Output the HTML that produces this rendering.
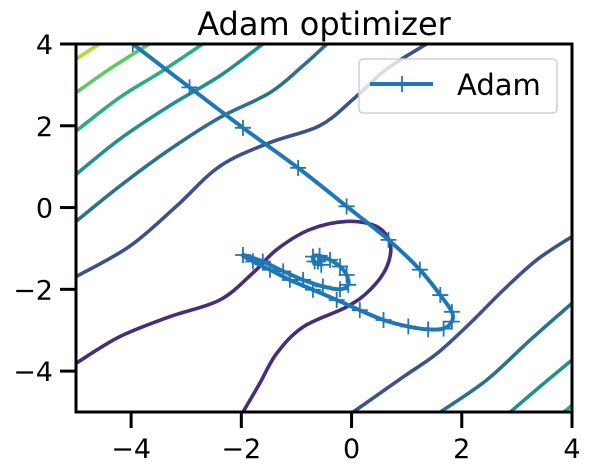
<!DOCTYPE html>
<html><head><meta charset="utf-8"><style>
html,body{margin:0;padding:0;background:#fff;}
svg{display:block;font-family:"DejaVu Sans","Liberation Sans",sans-serif;}
</style></head><body>
<svg id="chart" width="592" height="474" viewBox="0 0 592 474"></svg>
<script>
const xTicks=[-4,-2,0,2,4];
const yTicks=[-4,-2,0,2,4];
const xTickLabels=["\u22124","\u22122","0","2","4"];
const yTickLabels=["\u22124","\u22122","0","2","4"];
const contourColors=["#addc30","#5ec962","#28ae80","#21918c","#2c728e","#3b528b","#472d7b","#3b528b","#2c728e","#21918c","#28ae80"];
const contourLines=[
[[-5,3.63],[-4.58,4]],
[[-5,2.81],[-4.39,3.39],[-3.67,4]],
[[-5,1.87],[-4.21,2.69],[-3.48,3.30],[-2.70,4]],
[[-5,0.81],[-4.21,1.67],[-3.30,2.49],[-2.39,3.22],[-1.61,4]],
[[-5,-0.34],[-4.21,0.52],[-3.30,1.42],[-2.39,2.20],[-1.48,2.81],[-0.88,3.47],[-0.45,4]],
[[-5,-1.69],[-4.03,-0.95],[-3.18,0.03],[-2.39,1.01],[-1.48,1.59],[-0.58,2.0],[0.03,2.65],[0.64,3.39],[1.36,4]],
[[-5,-3.81],[-4.21,-3.16],[-3.30,-2.67],[-2.39,-2.26],[-1.79,-1.60],[-1.36,-1.03],[-0.76,-0.54],[-0.09,-0.34],[0.45,-0.46],[0.70,-0.87],[0.64,-1.45],[0.33,-2.02],[-0.09,-2.43],[-0.88,-2.92],[-1.36,-3.57],[-1.67,-4.31],[-1.97,-5]],
[[0.03,-5],[0.94,-4.14],[1.55,-3.57],[2.15,-2.83],[2.76,-2.01],[3.36,-1.28],[4,-0.71]],
[[1.61,-5],[2.45,-4.22],[3.24,-3.24],[4,-2.34]],
[[2.88,-5],[3.48,-4.31],[4,-3.73]],
[[3.85,-5],[4,-4.84]]
];
const adamX=[-3.97,-2.94,-1.97,-0.97,-0.09,0.67,1.24,1.61,1.82,1.82,1.67,1.39,1.03,0.58,0.15,-0.27,-0.70,-1.12,-1.48,-1.79,-1.97,-1.61,-1.24,-0.88,-0.52,-0.21,-0.06,-0.09,-0.21,-0.39,-0.58,-0.70,-0.67,-0.55,-0.61];
const adamY=[4.00,2.94,1.95,0.97,0.03,-0.79,-1.52,-2.14,-2.55,-2.79,-2.96,-2.98,-2.91,-2.75,-2.51,-2.26,-2.01,-1.77,-1.52,-1.32,-1.16,-1.32,-1.56,-1.77,-1.93,-2.00,-1.89,-1.65,-1.44,-1.28,-1.18,-1.20,-1.32,-1.40,-1.32];

const L=76,R=572,T=44,B=412,X0=-5,X1=4,Y0=-5,Y1=4;
const sx=v=>L+(v-X0)/(X1-X0)*(R-L);
const sy=v=>B-(v-Y0)/(Y1-Y0)*(B-T);
const NS="http://www.w3.org/2000/svg";
const svg=document.getElementById('chart');
function mk(tag,attrs,parent){const e=document.createElementNS(NS,tag);for(const k in attrs)e.setAttribute(k,attrs[k]);(parent||svg).appendChild(e);return e;}
function smooth(pts){let d=`M${pts[0][0]},${pts[0][1]}`;for(let i=0;i<pts.length-1;i++){const p0=pts[i-1]||pts[i],p1=pts[i],p2=pts[i+1],p3=pts[i+2]||p2;d+=` C${p1[0]+(p2[0]-p0[0])/6},${p1[1]+(p2[1]-p0[1])/6} ${p2[0]-(p3[0]-p1[0])/6},${p2[1]-(p3[1]-p1[1])/6} ${p2[0]},${p2[1]}`;}return d;}

const cp=mk('clipPath',{id:'clip'});
mk('rect',{x:L,y:T,width:R-L,height:B-T},cp);

const cg=mk('g',{'clip-path':'url(#clip)'});


contourLines.forEach((ln,i)=>{
  const p=mk('path',{d:smooth(ln.map(q=>[sx(q[0]),sy(q[1])])),fill:'none',stroke:contourColors[i],'stroke-width':3.6},cg);
  
  
});

const ag=mk('g',{'clip-path':'url(#clip)'});


const apts=adamX.map((x,i)=>[sx(x),sy(adamY[i])]);
mk('path',{d:smooth(apts),fill:'none',stroke:'#1f77b4','stroke-width':4,'stroke-linejoin':'round'},ag);
apts.forEach(p=>{
  const m=mk('path',{d:`M${p[0]-8},${p[1]}H${p[0]+8}M${p[0]},${p[1]-8}V${p[1]+8}`,stroke:'#1f77b4','stroke-width':1.8},ag);
  
  
});

const fr=mk('rect',{x:L,y:T,width:R-L,height:B-T,fill:'none',stroke:'#000','stroke-width':3});



xTicks.forEach((t,i)=>{
  mk('line',{x1:sx(t),x2:sx(t),y1:B,y2:B+16,stroke:'#000','stroke-width':3});
  const tx=mk('text',{x:sx(t),y:B+46,'text-anchor':'middle','font-size':27,fill:'#000'});
  tx.textContent=xTickLabels[i];
  
  
});
yTicks.forEach((t,i)=>{
  mk('line',{x1:L-16,x2:L,y1:sy(t),y2:sy(t),stroke:'#000','stroke-width':3});
  const tx=mk('text',{x:L-23,y:sy(t)+10,'text-anchor':'end','font-size':27,fill:'#000'});
  tx.textContent=yTickLabels[i];
  
  
});

const title=mk('text',{x:324,y:35,'text-anchor':'middle','font-size':32,fill:'#000'});
title.textContent='Adam optimizer';



const lg=mk('g',{});


mk('rect',{x:359,y:59,width:198,height:54,rx:4,fill:'#fff','fill-opacity':0.8,stroke:'#d0d0d0','stroke-width':1.5},lg);
mk('line',{x1:370,x2:433,y1:84,y2:84,stroke:'#1f77b4','stroke-width':4},lg);
mk('line',{x1:402,x2:402,y1:76,y2:92,stroke:'#1f77b4','stroke-width':1.8},lg);
const lt=mk('text',{x:457,y:95,'font-size':29,fill:'#000'},lg);
lt.textContent='Adam';


</script>
</body></html>
